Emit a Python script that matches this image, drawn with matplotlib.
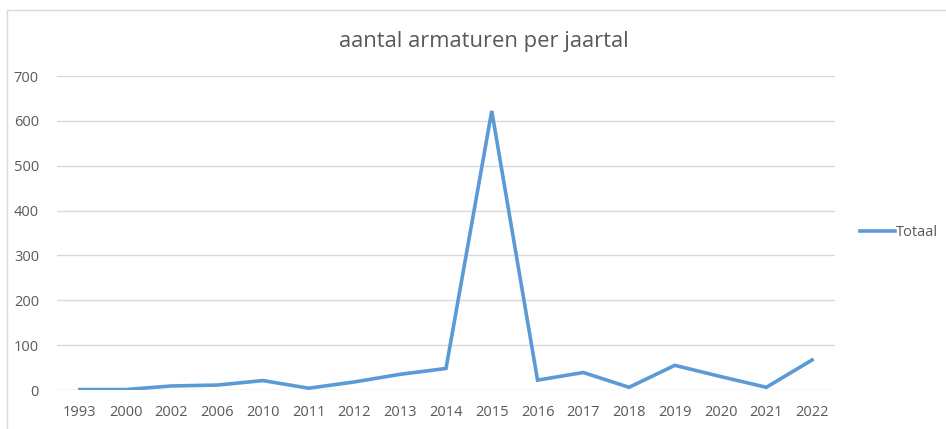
import matplotlib.pyplot as plt
from matplotlib.patches import Rectangle

years = ['1993', '2000', '2002', '2006', '2010', '2011', '2012', '2013', '2014',
         '2015', '2016', '2017', '2018', '2019', '2020', '2021', '2022']
totaal = [1, 1, 9, 11, 21, 4, 18, 35, 48, 622, 22, 39, 6, 55, 30, 6, 67]

W, H = 946, 429
fig = plt.figure(figsize=(W / 100, H / 100), dpi=100)
plt.rcParams['font.family'] = ['Open Sans', 'DejaVu Sans']

# chart border
fig.patches.append(Rectangle((7 / W, -0.01), 1.0, 1 - 10 / H + 0.01,
                             transform=fig.transFigure, fill=False,
                             edgecolor='#d9d9d9', linewidth=1))

ax = fig.add_axes([57 / W, 1 - 390 / H, 778 / W, 314 / H])
x = list(range(len(years)))
ax.plot(x, totaal, color='#5b9bd5', linewidth=2.6, label='Totaal',
        solid_joinstyle='miter', zorder=3)

ax.set_xlim(-0.5, len(years) - 0.5)
ax.set_ylim(0, 700)
ax.set_yticks(range(0, 701, 100))
ax.set_xticks(x)
ax.set_xticklabels(years)
ax.tick_params(length=0, labelsize=10.5, labelcolor='#595959')
ax.tick_params(axis='x', pad=11)
ax.tick_params(axis='y', pad=13)
ax.grid(axis='y', color='#d9d9d9', linewidth=1)
ax.set_axisbelow(True)
for s in ax.spines.values():
    s.set_visible(False)

fig.text(484 / W, 1 - 42 / H, 'aantal armaturen per jaartal', ha='center',
         va='center', fontsize=15.8, color='#595959')

ax.legend(loc='center left', bbox_to_anchor=(1.015, 0.5), frameon=False,
          fontsize=10.5, labelcolor='#595959', handlelength=2.4,
          handletextpad=0.05)

fig.savefig('out.png', dpi=100)
